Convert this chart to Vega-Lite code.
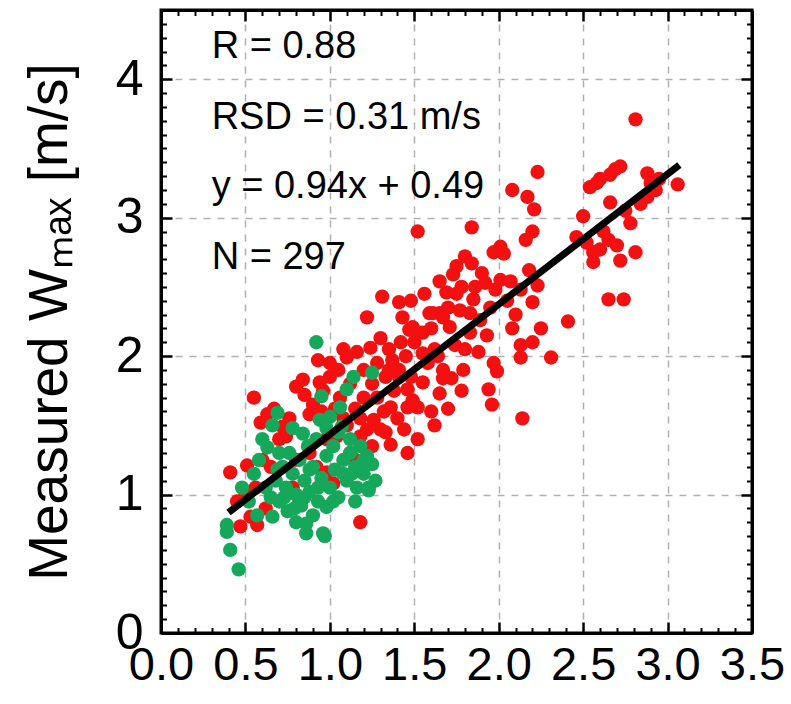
{
  "$schema": "https://vega.github.io/schema/vega-lite/v6.json",
  "width": 591,
  "height": 623,
  "autosize": "none",
  "padding": {"left": 161, "top": 10, "right": 39, "bottom": 71},
  "background": "white",
  "config": {
    "view": {"stroke": "black", "strokeWidth": 3},
    "font": "Liberation Sans",
    "axis": {
      "labelFont": "Liberation Sans",
      "labelColor": "black",
      "tickColor": "black",
      "domainColor": "black",
      "titleColor": "black",
      "labelFlush": false,
      "labelOverlap": false
    }
  },
  "datasets": {
    "points": [
      {"x":0.41,"y":1.16,"g":"red"},{"x":0.47,"y":0.77,"g":"red"},{"x":0.53,"y":0.84,"g":"red"},{"x":0.57,"y":0.78,"g":"red"},
      {"x":0.51,"y":1.21,"g":"red"},{"x":0.55,"y":1.70,"g":"red"},{"x":0.59,"y":1.52,"g":"red"},{"x":0.63,"y":1.58,"g":"red"},
      {"x":0.60,"y":1.25,"g":"red"},{"x":0.45,"y":0.95,"g":"red"},{"x":0.50,"y":1.00,"g":"red"},{"x":0.56,"y":1.05,"g":"red"},
      {"x":0.62,"y":0.90,"g":"red"},{"x":0.65,"y":1.20,"g":"red"},{"x":0.67,"y":1.62,"g":"red"},{"x":0.70,"y":1.40,"g":"red"},
      {"x":0.72,"y":1.49,"g":"red"},{"x":0.74,"y":1.42,"g":"red"},{"x":0.76,"y":1.55,"g":"red"},{"x":0.80,"y":1.78,"g":"red"},
      {"x":0.84,"y":1.83,"g":"red"},{"x":0.85,"y":1.72,"g":"red"},{"x":0.88,"y":1.58,"g":"red"},{"x":0.93,"y":1.97,"g":"red"},
      {"x":0.94,"y":1.81,"g":"red"},{"x":0.80,"y":1.25,"g":"red"},{"x":0.78,"y":1.05,"g":"red"},{"x":0.82,"y":0.95,"g":"red"},
      {"x":0.92,"y":1.20,"g":"red"},{"x":0.98,"y":1.16,"g":"red"},{"x":1.02,"y":1.08,"g":"red"},{"x":1.18,"y":0.80,"g":"red"},
      {"x":0.90,"y":1.65,"g":"red"},{"x":0.96,"y":1.75,"g":"red"},{"x":1.00,"y":1.85,"g":"red"},{"x":1.04,"y":1.42,"g":"red"},
      {"x":1.10,"y":1.99,"g":"red"},{"x":1.16,"y":2.03,"g":"red"},{"x":1.24,"y":2.06,"g":"red"},{"x":1.22,"y":2.28,"g":"red"},
      {"x":1.31,"y":2.43,"g":"red"},{"x":1.41,"y":2.39,"g":"red"},{"x":1.43,"y":2.28,"g":"red"},{"x":1.30,"y":2.13,"g":"red"},
      {"x":1.37,"y":1.97,"g":"red"},{"x":1.41,"y":1.90,"g":"red"},{"x":1.49,"y":2.21,"g":"red"},{"x":1.55,"y":2.17,"g":"red"},
      {"x":1.59,"y":2.31,"g":"red"},{"x":1.65,"y":2.31,"g":"red"},{"x":1.69,"y":2.46,"g":"red"},{"x":1.67,"y":1.90,"g":"red"},
      {"x":1.65,"y":1.73,"g":"red"},{"x":1.55,"y":1.81,"g":"red"},{"x":1.52,"y":1.63,"g":"red"},{"x":1.46,"y":1.63,"g":"red"},
      {"x":1.36,"y":1.63,"g":"red"},{"x":1.26,"y":1.54,"g":"red"},{"x":1.30,"y":1.47,"g":"red"},{"x":1.22,"y":1.47,"g":"red"},
      {"x":1.18,"y":1.42,"g":"red"},{"x":1.44,"y":1.47,"g":"red"},{"x":1.36,"y":1.36,"g":"red"},{"x":1.12,"y":1.30,"g":"red"},
      {"x":1.06,"y":1.70,"g":"red"},{"x":1.12,"y":1.80,"g":"red"},{"x":1.15,"y":1.62,"g":"red"},{"x":1.20,"y":1.70,"g":"red"},
      {"x":1.25,"y":1.80,"g":"red"},{"x":1.28,"y":1.95,"g":"red"},{"x":1.33,"y":1.85,"g":"red"},{"x":1.35,"y":2.05,"g":"red"},
      {"x":1.38,"y":1.75,"g":"red"},{"x":1.45,"y":2.00,"g":"red"},{"x":1.48,"y":1.85,"g":"red"},{"x":1.50,"y":2.10,"g":"red"},
      {"x":1.20,"y":1.90,"g":"red"},{"x":1.40,"y":1.55,"g":"red"},{"x":1.33,"y":1.45,"g":"red"},{"x":1.08,"y":1.55,"g":"red"},
      {"x":1.03,"y":1.62,"g":"red"},{"x":0.98,"y":1.40,"g":"red"},{"x":1.15,"y":1.25,"g":"red"},{"x":1.25,"y":1.35,"g":"red"},
      {"x":1.46,"y":1.30,"g":"red"},{"x":1.52,"y":1.40,"g":"red"},{"x":1.60,"y":1.60,"g":"red"},{"x":1.62,"y":1.50,"g":"red"},
      {"x":1.70,"y":1.62,"g":"red"},{"x":1.58,"y":1.95,"g":"red"},{"x":1.62,"y":2.05,"g":"red"},{"x":1.72,"y":1.84,"g":"red"},
      {"x":1.74,"y":2.08,"g":"red"},{"x":1.78,"y":1.75,"g":"red"},
      {"x":1.05,"y":1.90,"g":"red"},{"x":1.10,"y":1.50,"g":"red"},{"x":1.18,"y":1.55,"g":"red"},{"x":1.28,"y":1.70,"g":"red"},
      {"x":1.32,"y":1.60,"g":"red"},{"x":1.35,"y":1.90,"g":"red"},{"x":1.42,"y":2.10,"g":"red"},{"x":1.48,"y":2.40,"g":"red"},
      {"x":1.56,"y":2.45,"g":"red"},{"x":1.60,"y":2.20,"g":"red"},{"x":1.64,"y":2.00,"g":"red"},{"x":1.70,"y":2.35,"g":"red"},
      {"x":1.75,"y":2.45,"g":"red"},{"x":1.80,"y":2.05,"g":"red"},{"x":1.86,"y":2.50,"g":"red"},{"x":1.93,"y":2.15,"g":"red"},
      {"x":0.88,"y":1.30,"g":"red"},{"x":0.95,"y":1.60,"g":"red"},{"x":1.00,"y":1.95,"g":"red"},{"x":1.08,"y":2.05,"g":"red"},
      {"x":1.52,"y":2.90,"g":"red"},{"x":1.84,"y":2.93,"g":"red"},{"x":2.20,"y":2.90,"g":"red"},{"x":2.16,"y":2.84,"g":"red"},
      {"x":2.01,"y":2.79,"g":"red"},{"x":2.03,"y":2.74,"g":"red"},{"x":1.97,"y":2.75,"g":"red"},{"x":1.80,"y":2.72,"g":"red"},
      {"x":1.84,"y":2.67,"g":"red"},{"x":1.75,"y":2.65,"g":"red"},{"x":1.73,"y":2.59,"g":"red"},{"x":1.65,"y":2.54,"g":"red"},
      {"x":1.92,"y":2.53,"g":"red"},{"x":1.98,"y":2.48,"g":"red"},{"x":2.01,"y":2.55,"g":"red"},{"x":2.07,"y":2.54,"g":"red"},
      {"x":2.13,"y":2.48,"g":"red"},{"x":2.23,"y":2.51,"g":"red"},{"x":2.20,"y":2.39,"g":"red"},{"x":1.85,"y":2.41,"g":"red"},
      {"x":1.77,"y":2.33,"g":"red"},{"x":1.83,"y":2.31,"g":"red"},{"x":1.89,"y":2.26,"g":"red"},{"x":1.61,"y":2.31,"g":"red"},
      {"x":1.67,"y":2.28,"g":"red"},{"x":1.71,"y":2.21,"g":"red"},{"x":1.83,"y":2.17,"g":"red"},{"x":1.88,"y":2.03,"g":"red"},
      {"x":2.08,"y":2.20,"g":"red"},{"x":2.13,"y":2.08,"g":"red"},{"x":2.20,"y":2.10,"g":"red"},{"x":2.13,"y":1.99,"g":"red"},
      {"x":2.31,"y":1.99,"g":"red"},{"x":2.41,"y":2.25,"g":"red"},{"x":1.97,"y":1.95,"g":"red"},{"x":1.99,"y":1.89,"g":"red"},
      {"x":1.94,"y":1.76,"g":"red"},{"x":1.96,"y":1.65,"g":"red"},{"x":2.14,"y":1.55,"g":"red"},{"x":1.79,"y":1.90,"g":"red"},
      {"x":1.67,"y":1.84,"g":"red"},{"x":1.55,"y":2.02,"g":"red"},{"x":1.47,"y":2.19,"g":"red"},{"x":1.53,"y":2.17,"g":"red"},
      {"x":1.41,"y":1.85,"g":"red"},{"x":1.46,"y":1.76,"g":"red"},{"x":1.49,"y":1.68,"g":"red"},{"x":2.23,"y":3.33,"g":"red"},
      {"x":2.08,"y":3.20,"g":"red"},{"x":2.17,"y":3.15,"g":"red"},{"x":2.21,"y":3.06,"g":"red"},{"x":2.81,"y":3.71,"g":"red"},
      {"x":1.90,"y":2.60,"g":"red"},{"x":1.95,"y":2.35,"g":"red"},{"x":2.05,"y":2.40,"g":"red"},{"x":2.10,"y":2.30,"g":"red"},
      {"x":2.25,"y":2.20,"g":"red"},{"x":2.18,"y":2.62,"g":"red"},{"x":1.78,"y":2.50,"g":"red"},
      {"x":2.50,"y":3.01,"g":"red"},{"x":2.54,"y":3.22,"g":"red"},{"x":2.60,"y":3.28,"g":"red"},{"x":2.66,"y":3.31,"g":"red"},
      {"x":2.69,"y":3.35,"g":"red"},{"x":2.72,"y":3.37,"g":"red"},{"x":2.88,"y":3.32,"g":"red"},{"x":3.06,"y":3.24,"g":"red"},
      {"x":2.93,"y":3.20,"g":"red"},{"x":2.88,"y":3.15,"g":"red"},{"x":2.84,"y":3.10,"g":"red"},{"x":2.66,"y":3.11,"g":"red"},
      {"x":2.78,"y":2.96,"g":"red"},{"x":2.46,"y":2.86,"g":"red"},{"x":2.52,"y":2.82,"g":"red"},{"x":2.56,"y":2.75,"g":"red"},
      {"x":2.60,"y":2.77,"g":"red"},{"x":2.65,"y":2.84,"g":"red"},{"x":2.56,"y":2.68,"g":"red"},{"x":2.72,"y":2.69,"g":"red"},
      {"x":2.81,"y":2.75,"g":"red"},{"x":2.65,"y":2.41,"g":"red"},{"x":2.74,"y":2.41,"g":"red"},{"x":2.62,"y":2.90,"g":"red"},
      {"x":2.58,"y":3.25,"g":"red"},{"x":2.90,"y":3.25,"g":"red"},{"x":2.95,"y":3.28,"g":"red"},{"x":2.75,"y":3.05,"g":"red"},
      {"x":2.70,"y":2.80,"g":"red"},
      {"x":0.39,"y":0.78,"g":"green"},{"x":0.39,"y":0.73,"g":"green"},{"x":0.41,"y":0.60,"g":"green"},{"x":0.46,"y":0.46,"g":"green"},
      {"x":0.48,"y":1.05,"g":"green"},{"x":0.52,"y":0.95,"g":"green"},{"x":0.55,"y":1.15,"g":"green"},{"x":0.58,"y":1.25,"g":"green"},
      {"x":0.60,"y":1.40,"g":"green"},{"x":0.63,"y":1.34,"g":"green"},{"x":0.66,"y":1.50,"g":"green"},{"x":0.69,"y":1.59,"g":"green"},
      {"x":0.62,"y":1.05,"g":"green"},{"x":0.65,"y":0.98,"g":"green"},{"x":0.68,"y":1.10,"g":"green"},{"x":0.70,"y":0.95,"g":"green"},
      {"x":0.72,"y":1.20,"g":"green"},{"x":0.74,"y":1.05,"g":"green"},{"x":0.75,"y":0.88,"g":"green"},{"x":0.76,"y":1.30,"g":"green"},
      {"x":0.78,"y":1.48,"g":"green"},{"x":0.78,"y":1.15,"g":"green"},{"x":0.80,"y":1.00,"g":"green"},{"x":0.80,"y":0.80,"g":"green"},
      {"x":0.82,"y":1.25,"g":"green"},{"x":0.83,"y":0.92,"g":"green"},{"x":0.84,"y":1.44,"g":"green"},{"x":0.85,"y":1.10,"g":"green"},
      {"x":0.86,"y":0.72,"g":"green"},{"x":0.87,"y":1.35,"g":"green"},{"x":0.88,"y":1.02,"g":"green"},{"x":0.90,"y":1.20,"g":"green"},
      {"x":0.90,"y":0.85,"g":"green"},{"x":0.92,"y":2.10,"g":"green"},{"x":0.92,"y":1.40,"g":"green"},{"x":0.93,"y":0.95,"g":"green"},
      {"x":0.94,"y":1.54,"g":"green"},{"x":0.95,"y":1.71,"g":"green"},{"x":0.95,"y":1.12,"g":"green"},{"x":0.97,"y":0.70,"g":"green"},
      {"x":0.98,"y":1.28,"g":"green"},{"x":1.00,"y":1.56,"g":"green"},{"x":1.00,"y":1.05,"g":"green"},{"x":1.02,"y":1.35,"g":"green"},
      {"x":1.03,"y":1.18,"g":"green"},{"x":1.05,"y":1.45,"g":"green"},{"x":1.05,"y":0.98,"g":"green"},{"x":1.06,"y":1.63,"g":"green"},
      {"x":1.07,"y":1.49,"g":"green"},{"x":1.08,"y":1.25,"g":"green"},{"x":1.10,"y":1.76,"g":"green"},{"x":1.10,"y":1.10,"g":"green"},
      {"x":1.12,"y":1.30,"g":"green"},{"x":1.12,"y":1.40,"g":"green"},{"x":1.14,"y":1.85,"g":"green"},{"x":1.15,"y":1.20,"g":"green"},
      {"x":1.16,"y":1.05,"g":"green"},{"x":1.18,"y":1.35,"g":"green"},{"x":1.20,"y":1.15,"g":"green"},{"x":1.22,"y":1.28,"g":"green"},
      {"x":1.23,"y":1.05,"g":"green"},{"x":1.25,"y":1.88,"g":"green"},{"x":1.25,"y":1.22,"g":"green"},{"x":1.27,"y":1.10,"g":"green"},
      {"x":1.15,"y":0.95,"g":"green"},{"x":1.08,"y":1.15,"g":"green"},{"x":0.98,"y":1.48,"g":"green"},{"x":0.88,"y":1.18,"g":"green"},
      {"x":0.70,"y":1.30,"g":"green"},{"x":0.57,"y":0.85,"g":"green"},{"x":0.86,"y":0.79,"g":"green"},{"x":0.96,"y":0.72,"g":"green"},
      {"x":0.66,"y":0.84,"g":"green"},{"x":0.98,"y":0.91,"g":"green"},{"x":1.23,"y":1.03,"g":"green"},{"x":1.18,"y":1.20,"g":"green"},
      {"x":0.73,"y":0.98,"g":"green"},{"x":0.79,"y":0.90,"g":"green"},{"x":0.85,"y":0.98,"g":"green"},{"x":0.93,"y":1.05,"g":"green"},
      {"x":1.02,"y":0.95,"g":"green"},{"x":1.13,"y":1.15,"g":"green"},{"x":1.20,"y":1.25,"g":"green"},{"x":0.69,"y":1.18,"g":"green"}
    ],
    "fit": [{"x": 0.40, "y": 0.87}, {"x": 3.07, "y": 3.38}],
    "notes": [
      {"x": 0.30, "y": 4.23, "label": "R = 0.88"},
      {"x": 0.30, "y": 3.72, "label": "RSD = 0.31 m/s"},
      {"x": 0.30, "y": 3.22, "label": "y = 0.94x + 0.49"},
      {"x": 0.30, "y": 2.71, "label": "N = 297"}
    ]
  },
  "layer": [
    {
      "data": {"name": "points"},
      "transform": [{"filter": "datum.g === 'red'"}],
      "mark": {"type": "circle", "size": 205, "opacity": 1},
      "encoding": {
        "x": {"field": "x", "type": "quantitative",
          "scale": {"domain": [0, 3.5], "nice": false, "zero": false},
          "axis": {"orient": "bottom", "values": [0, 0.5, 1, 1.5, 2, 2.5, 3, 3.5], "format": ".1f",
            "labelFontSize": 47, "labelPadding": 20, "tickSize": -11, "tickWidth": 2.5,
            "grid": true, "gridColor": "#b0b0b0", "gridDash": [7, 7], "gridWidth": 1.5,
            "domain": false, "title": null}},
        "y": {"field": "y", "type": "quantitative",
          "scale": {"domain": [0, 4.5], "nice": false, "zero": false},
          "axis": {"orient": "left", "values": [0, 1, 2, 3, 4], "format": "d",
            "labelFontSize": 50, "labelPadding": 29, "tickSize": -11, "tickWidth": 2.5,
            "grid": true, "gridColor": "#b0b0b0", "gridDash": [7, 7], "gridWidth": 1.5,
            "domain": false,
            "title": "Measured Wₘₐₓ [m/s]", "titleFont": "Liberation Sans", "titleFontSize": 55,
            "titleFontWeight": "normal", "titlePadding": 37}},
        "color": {"field": "g", "type": "nominal",
          "scale": {"domain": ["red", "green"], "range": ["#f41010", "#16a85a"]}, "legend": null}
      }
    },
    {
      "data": {"name": "points"},
      "transform": [{"filter": "datum.g === 'green'"}],
      "mark": {"type": "circle", "size": 205, "opacity": 1},
      "encoding": {
        "x": {"field": "x", "type": "quantitative",
          "scale": {"domain": [0, 3.5], "nice": false, "zero": false},
          "axis": {"orient": "bottom", "values": [0.1,0.2,0.3,0.4,0.6,0.7,0.8,0.9,1.1,1.2,1.3,1.4,1.6,1.7,1.8,1.9,2.1,2.2,2.3,2.4,2.6,2.7,2.8,2.9,3.1,3.2,3.3,3.4],
            "labels": false, "tickSize": -5.5, "tickWidth": 2, "grid": false,
            "domain": true, "domainWidth": 3, "zindex": 1, "title": null}},
        "y": {"field": "y", "type": "quantitative",
          "scale": {"domain": [0, 4.5], "nice": false, "zero": false},
          "axis": {"orient": "left", "values": [0.1,0.2,0.3,0.4,0.5,0.6,0.7,0.8,0.9,1.1,1.2,1.3,1.4,1.5,1.6,1.7,1.8,1.9,2.1,2.2,2.3,2.4,2.5,2.6,2.7,2.8,2.9,3.1,3.2,3.3,3.4,3.5,3.6,3.7,3.8,3.9,4.1,4.2,4.3,4.4],
            "labels": false, "tickSize": -5.5, "tickWidth": 2, "grid": false,
            "domain": true, "domainWidth": 3, "zindex": 1, "title": null}},
        "color": {"field": "g", "type": "nominal",
          "scale": {"domain": ["red", "green"], "range": ["#f41010", "#16a85a"]}, "legend": null}
      }
    },
    {
      "data": {"name": "fit"},
      "mark": {"type": "line", "color": "black", "strokeWidth": 7, "strokeCap": "butt"},
      "encoding": {
        "x": {"field": "x", "type": "quantitative",
          "scale": {"domain": [0, 3.5], "nice": false, "zero": false},
          "axis": {"orient": "top", "values": [0.5, 1, 1.5, 2, 2.5, 3],
            "labels": false, "tickSize": -11, "tickWidth": 2.5, "grid": false,
            "domain": true, "domainWidth": 3, "zindex": 1, "title": null}},
        "y": {"field": "y", "type": "quantitative",
          "scale": {"domain": [0, 4.5], "nice": false, "zero": false},
          "axis": {"orient": "right", "values": [1, 2, 3, 4],
            "labels": false, "tickSize": -11, "tickWidth": 2.5, "grid": false,
            "domain": true, "domainWidth": 3, "zindex": 1, "title": null}}
      }
    },
    {
      "data": {"name": "notes"},
      "mark": {"type": "text", "align": "left", "baseline": "middle", "font": "Liberation Sans", "fontSize": 38, "color": "black"},
      "encoding": {
        "x": {"field": "x", "type": "quantitative",
          "scale": {"domain": [0, 3.5], "nice": false, "zero": false},
          "axis": {"orient": "top", "values": [0.1,0.2,0.3,0.4,0.6,0.7,0.8,0.9,1.1,1.2,1.3,1.4,1.6,1.7,1.8,1.9,2.1,2.2,2.3,2.4,2.6,2.7,2.8,2.9,3.1,3.2,3.3,3.4],
            "labels": false, "tickSize": -5.5, "tickWidth": 2, "grid": false,
            "domain": false, "zindex": 1, "title": null}},
        "y": {"field": "y", "type": "quantitative",
          "scale": {"domain": [0, 4.5], "nice": false, "zero": false},
          "axis": {"orient": "right", "values": [0.1,0.2,0.3,0.4,0.5,0.6,0.7,0.8,0.9,1.1,1.2,1.3,1.4,1.5,1.6,1.7,1.8,1.9,2.1,2.2,2.3,2.4,2.5,2.6,2.7,2.8,2.9,3.1,3.2,3.3,3.4,3.5,3.6,3.7,3.8,3.9,4.1,4.2,4.3,4.4],
            "labels": false, "tickSize": -5.5, "tickWidth": 2, "grid": false,
            "domain": false, "zindex": 1, "title": null}},
        "text": {"field": "label", "type": "nominal"}
      }
    }
  ],
  "resolve": {"axis": {"x": "independent", "y": "independent"}}
}
